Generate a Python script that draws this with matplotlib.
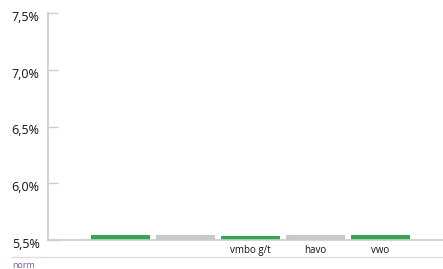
import numpy as np
import matplotlib
matplotlib.use('Agg')
import matplotlib.pyplot as plt
import matplotlib.transforms as mtransforms
from matplotlib.lines import Line2D

categories = ['', '', 'vmbo g/t', 'havo', 'vwo']
values = [5.547, 5.547, 5.539, 5.547, 5.547]
bar_colors = ['#33a853', '#c8c8c8', '#33a853', '#c8c8c8', '#33a853']
yticks = [5.5, 6.0, 6.5, 7.0, 7.5]

W, H = 443, 269
fig = plt.figure(figsize=(W / 100, H / 100), dpi=100)
plt.rcParams['font.family'] = ['Open Sans', 'DejaVu Sans']

ax = fig.add_axes([48 / W, 1 - 240 / H, (W - 48) / W, (240 - 13) / H])
x = np.arange(len(categories))
ax.bar(x, values, width=0.908, color=bar_colors, bottom=0)
ax.set_ylim(5.5, 7.5)
ax.set_xlim(-1.115, 4.96)

ax.set_yticks(yticks)
ax.set_yticklabels([f"{v:.1f}%".replace('.', ',') for v in yticks], fontsize=9, color='#111111')
ax.tick_params(axis='y', direction='in', length=7, width=1, color='#cccccc', pad=6)
# labels sit a little below their ticks in the original
shift = mtransforms.ScaledTranslation(0, -2 / 72, fig.dpi_scale_trans)
for lab in ax.get_yticklabels():
    lab.set_transform(lab.get_transform() + shift)
ax.set_xticks(x)
ax.set_xticklabels(categories, fontsize=7, color='#111111')
ax.tick_params(axis='x', length=0, pad=3.5)

for s in ['top', 'right']:
    ax.spines[s].set_visible(False)
for s in ['left', 'bottom']:
    ax.spines[s].set_color('#cccccc')
    ax.spines[s].set_linewidth(1.2)
ax.patch.set_alpha(0)

fig.add_artist(Line2D([12 / W, 1], [1 - 257 / H, 1 - 257 / H], color='#dddddd', linewidth=1))
fig.text(12 / W, 1 - 265 / H, 'norm', fontsize=6.5, color='#7a5aa0', va='center', ha='left')

fig.savefig('out.png', dpi=100)
